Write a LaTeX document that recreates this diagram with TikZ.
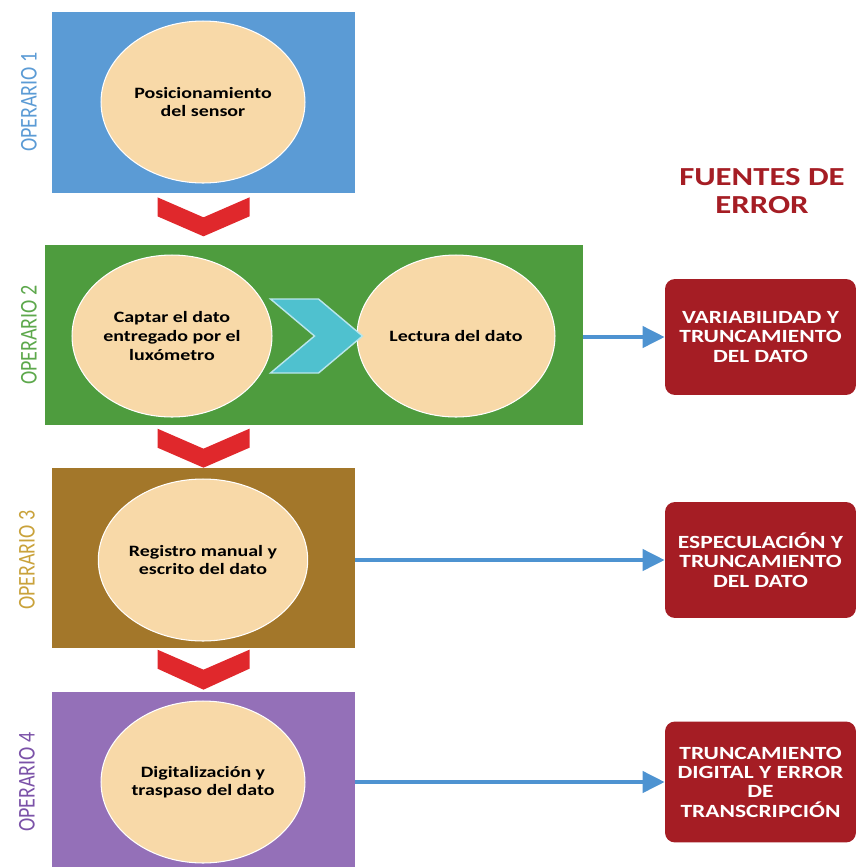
\documentclass[tikz,border=0pt]{standalone}
\usepackage{graphicx}
\usepackage{fontspec}
\setmainfont{Carlito}[FakeStretch=1.26]
\newfontfamily\oplabelfont{Carlito}
\usetikzlibrary{arrows.meta,positioning,shapes.geometric}
\definecolor{opblue}{HTML}{5B9BD5}
\definecolor{opgreen}{HTML}{4E9C3E}
\definecolor{labgreen}{HTML}{5DA84C}
\definecolor{opbrown}{HTML}{A3772A}
\definecolor{labgold}{HTML}{C9A23B}
\definecolor{oppurple}{HTML}{9470B8}
\definecolor{labpurple}{HTML}{7B52A8}
\definecolor{peach}{HTML}{F8D9A8}
\definecolor{chevred}{HTML}{E0282C}
\definecolor{stepcyan}{HTML}{4FC1CF}
\definecolor{errred}{HTML}{A51D24}
\definecolor{flowblue}{HTML}{4E93D1}

\begin{document}
\begin{tikzpicture}[x=0.02cm,y=-0.02cm,
  stage/.style={inner sep=0pt,minimum width=6.06cm,minimum height=3.6cm},
  task/.style={ellipse,draw=white,line width=0.6pt,fill=peach,inner sep=0pt,minimum width=4.08cm,minimum height=3.24cm,align=center,font=\fontsize{9}{10.6}\selectfont\bfseries},
  fault/.style={rounded corners=0.2cm,fill=errred,text=white,inner sep=0pt,minimum width=3.82cm,minimum height=2.32cm,align=center,font=\fontsize{10.6}{11}\selectfont\bfseries},
  oplabel/.style={rotate=90,font=\oplabelfont\fontsize{11.4}{12}\selectfont},
  chev/.style={fill=chevred},
  flow/.style={draw=flowblue,line width=2.3pt,-{Triangle[length=0.44cm,width=0.42cm]}}]
\useasboundingbox (0,0) rectangle (858,867);

% operario 1
\node[stage,fill=opblue,minimum height=3.62cm] (b1) at (203.5,102.5) {};
\node[task] (t1) at (203,102) {Posicionamiento\\del sensor};
\node[oplabel,text=opblue] (o1) at (29,102) {\scalebox{1}[1.2]{OPERARIO 1}};

% operario 2
\node[stage,fill=opgreen,minimum width=10.76cm] (b2) at (314,335) {};
\node[task,minimum width=4cm] (t2) at (172,336) {Captar el dato\\entregado por el\\luxómetro};
\node[task,minimum width=3.96cm] (t3) at (456,336) {Lectura del dato};
\filldraw[fill=stepcyan,draw=stepcyan!40!white,line width=0.8pt,shift={(t2.east)}] (-2,-37) -- (46,-37) -- (90,0) -- (46,37) -- (-2,37) -- (42,0) -- cycle;
\node[oplabel,text=labgreen] (o2) at (29,335) {\scalebox{1}[1.2]{OPERARIO 2}};

% operario 3
\node[stage,fill=opbrown] (b3) at (203.5,558) {};
\node[task] (t4) at (203,560) {Registro manual y\\escrito del dato};
\node[oplabel,text=labgold] (o3) at (27,560) {\scalebox{1}[1.2]{OPERARIO 3}};

% operario 4
\node[stage,fill=oppurple,minimum height=3.5cm] (b4) at (203.5,779.5) {};
\node[task] (t5) at (203,782) {Digitalización y\\traspaso del dato};
\node[oplabel,text=labpurple] (o4) at (27,782) {\scalebox{1}[1.2]{OPERARIO 4}};

% chevrons between stages
\fill[chev,shift={(b1.south)}] (-46,4) -- (0,24) -- (46,4) -- (46,23) -- (0,43) -- (-46,23) -- cycle;
\fill[chev,shift={(b3.north)}] (-46,-39) -- (0,-19) -- (46,-39) -- (46,-20) -- (0,0) -- (-46,-20) -- cycle;
\fill[chev,shift={(b4.north)}] (-46,-42) -- (0,-22) -- (46,-42) -- (46,-23) -- (0,-2) -- (-46,-23) -- cycle;

% error sources
\node[font=\fontsize{14.8}{16}\selectfont\bfseries,text=errred,align=center] (src) at (762,191) {FUENTES DE\\ERROR};
\node[fault] (f1) at (760.5,337) {VARIABILIDAD Y\\TRUNCAMIENTO\\DEL DATO};
\node[fault] (f2) at (760.5,560) {ESPECULACIÓN Y\\TRUNCAMIENTO\\DEL DATO};
\node[fault,minimum height=2.42cm] (f3) at (760.5,782) {TRUNCAMIENTO\\DIGITAL Y ERROR\\DE\\TRANSCRIPCIÓN};

\draw[flow] (b2.east |- f1) -- (f1);
\draw[flow] (b3.east |- f2) -- (f2);
\draw[flow] (b4.east |- f3) -- (f3);
\end{tikzpicture}
\end{document}
